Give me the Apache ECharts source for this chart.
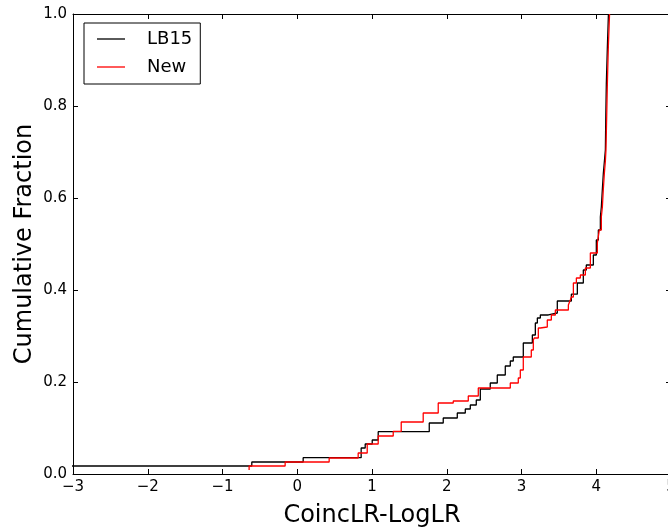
<!DOCTYPE html>
<html>
<head>
<meta charset="utf-8">
<script src="https://cdn.jsdelivr.net/npm/echarts@6/dist/echarts.min.js"></script>
<style>
  html, body { margin: 0; padding: 0; background: #fff; }
  #chart { width: 668px; height: 531px; }
</style>
</head>
<body>
<div id="chart"></div>
<script>
// step curves: [x, cumulative fraction] after each jump
const lb15 = [
  [-3.4, 0.0174], [-0.608, 0.0261], [0.079, 0.0354], [0.855, 0.0565], [0.909, 0.0652],
  [1.003, 0.0739], [1.083, 0.092], [1.766, 0.1109], [1.953, 0.1217], [2.141, 0.1326],
  [2.248, 0.1413], [2.315, 0.15], [2.395, 0.1609], [2.449, 0.1848], [2.582, 0.1978],
  [2.676, 0.2152], [2.783, 0.2348], [2.85, 0.2457], [2.89, 0.2543], [3.024, 0.2848],
  [3.145, 0.3022], [3.185, 0.3283], [3.212, 0.3391], [3.252, 0.3457], [3.359, 0.35],
  [3.479, 0.3761], [3.667, 0.391], [3.747, 0.4152], [3.827, 0.4435], [3.867, 0.4543],
  [3.961, 0.4761], [4.001, 0.5087], [4.028, 0.5304], [4.055, 0.5587], [4.068, 0.5804],
  [4.082, 0.62], [4.095, 0.6543], [4.109, 0.68], [4.122, 0.7043], [4.128, 0.78],
  [4.135, 0.85], [4.149, 0.93], [4.163, 1.0]
]
const newRun = [
  [-0.644, 0.0087], [-0.644, 0.0174], [-0.162, 0.0261], [0.427, 0.0348], [0.815, 0.0457],
  [0.936, 0.0652], [1.083, 0.0826], [1.284, 0.0928], [1.391, 0.113], [1.685, 0.1326],
  [1.886, 0.1543], [2.087, 0.1587], [2.288, 0.1696], [2.422, 0.187], [2.85, 0.1978],
  [2.957, 0.2087], [2.984, 0.2261], [3.024, 0.2543], [3.131, 0.2696], [3.158, 0.2913],
  [3.171, 0.2957], [3.225, 0.3174], [3.252, 0.3196], [3.345, 0.3348], [3.399, 0.3457],
  [3.453, 0.3565], [3.627, 0.3674], [3.653, 0.3783], [3.667, 0.3848], [3.694, 0.4152],
  [3.734, 0.4261], [3.787, 0.4326], [3.854, 0.4478], [3.921, 0.4804], [4.015, 0.5022],
  [4.041, 0.5304], [4.068, 0.5587], [4.082, 0.5804], [4.095, 0.62], [4.109, 0.6543],
  [4.122, 0.68], [4.13, 0.7043], [4.14, 0.78], [4.149, 0.85], [4.162, 0.93],
  [4.178, 1.0]
]
const seriesNames = ['LB15', 'New']
const seriesColors = ['#000000', '#ff0000']

const font = 'DejaVu Sans'
const fmtX = (v) => (v < 0 ? '\u2212' + Math.abs(v) : String(v))

const axisCommon = {
  axisLine: { show: true, onZero: false, lineStyle: { color: '#000', width: 1 } },
  axisTick: { show: true, inside: true, length: 5, lineStyle: { color: '#000' } },
  splitLine: { show: false }
}

const chart = echarts.init(document.getElementById('chart'), null, { renderer: 'canvas' })
chart.setOption({
  animation: false,
  backgroundColor: '#fff',
  grid: {
    left: 73, top: 14, width: 598, height: 460,
    containLabel: false, outerBoundsMode: 'none'
  },
  legend: {
    left: 84, top: 23,
    orient: 'vertical',
    data: seriesNames,
    icon: 'rect',
    borderColor: '#000', borderWidth: 1, borderRadius: 0,
    padding: [7, 8, 8, 13],
    itemWidth: 28, itemHeight: 1.3, itemGap: 10,
    textStyle: { fontFamily: font, fontSize: 18, lineHeight: 18, color: '#000', padding: [0, 0, 0, 17] }
  },
  xAxis: [
    Object.assign({
      type: 'value', min: -3, max: 5, interval: 1, position: 'bottom',
      name: 'CoincLR-LogLR', nameLocation: 'middle', nameGap: 30,
      nameTextStyle: { fontFamily: font, fontSize: 24, color: '#000' },
      axisLabel: { fontFamily: font, fontSize: 15, color: '#000', margin: 6, formatter: fmtX }
    }, axisCommon),
    Object.assign({
      type: 'value', min: -3, max: 5, interval: 1, position: 'top',
      axisLabel: { show: false }
    }, axisCommon)
  ],
  yAxis: [
    Object.assign({
      type: 'value', min: 0, max: 1, interval: 0.2, position: 'left',
      name: 'Cumulative Fraction', nameLocation: 'middle', nameGap: 36,
      nameMoveOverlap: false,
      nameTextStyle: { fontFamily: font, fontSize: 24, color: '#000' },
      axisLabel: { fontFamily: font, fontSize: 15, color: '#000', margin: 6,
        formatter: (v) => v.toFixed(1) }
    }, axisCommon),
    Object.assign({
      type: 'value', min: 0, max: 1, interval: 0.2, position: 'right',
      axisLabel: { show: false }
    }, axisCommon)
  ],
  series: [lb15, newRun].map((d, i) => ({
    name: seriesNames[i],
    type: 'line',
    step: 'end',
    data: d,
    symbol: 'none',
    clip: true,
    lineStyle: { color: seriesColors[i], width: 1.3 },
    itemStyle: { color: seriesColors[i] },
    z: 2 + i
  }))
})
</script>
</body>
</html>
